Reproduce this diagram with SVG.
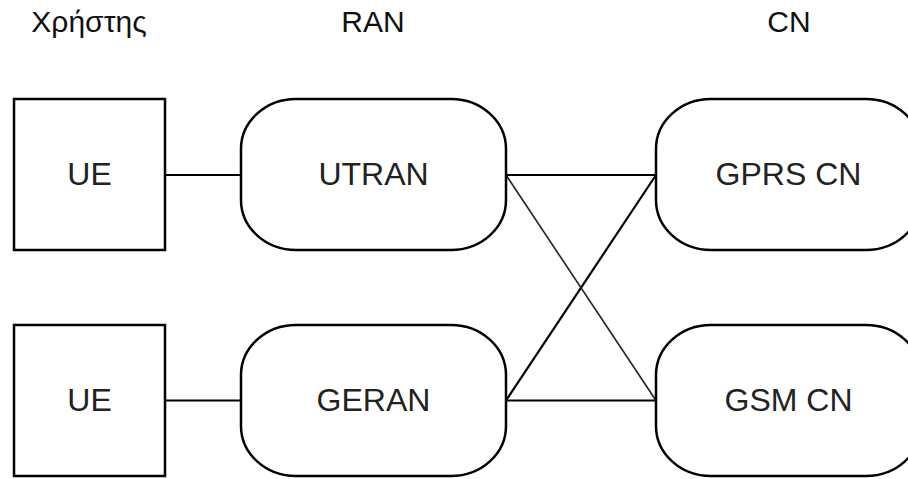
<svg xmlns="http://www.w3.org/2000/svg" width="908" height="479" viewBox="0 0 908 479">
<style>
.box{fill:#fff;stroke:#000;stroke-width:2.5}
.lbl{font-family:"Liberation Sans",Arial,sans-serif;font-size:32px;fill:#222;text-anchor:middle}
.hdr{font-family:"Liberation Sans",Arial,sans-serif;font-size:30px;fill:#111;text-anchor:middle}
.ln{stroke:#000;stroke-width:2.2;fill:none}
</style>
<rect width="908" height="479" fill="#fff"/>
<g id="headers">
<text class="hdr" x="89" y="32">Χρήστης</text>
<text class="hdr" x="373" y="32">RAN</text>
<text class="hdr" x="789" y="32">CN</text>
</g>
<g id="connectors">
<line class="ln" x1="165" y1="175" x2="241" y2="175"/>
<line class="ln" x1="165" y1="400.5" x2="241" y2="400.5"/>
<line class="ln" x1="506" y1="175" x2="656" y2="175"/>
<line class="ln" x1="506" y1="400.5" x2="656" y2="400.5"/>
<line class="ln" x1="506" y1="400.5" x2="656" y2="175"/>
<line x1="506" y1="175" x2="656" y2="400.5" stroke="#222" stroke-width="1.6"/>
</g>
<g id="ue1">
<rect class="box" x="14" y="99" width="151" height="151"/>
<text class="lbl" x="89.5" y="185">UE</text>
</g>
<g id="ue2">
<rect class="box" x="14" y="325" width="151" height="151"/>
<text class="lbl" x="89.5" y="411">UE</text>
</g>
<g id="utran">
<rect class="box" x="241" y="99" width="265" height="151" rx="55" ry="50"/>
<text class="lbl" x="373.5" y="185">UTRAN</text>
</g>
<g id="geran">
<rect class="box" x="241" y="325" width="265" height="151" rx="55" ry="50"/>
<text class="lbl" x="373.5" y="411">GERAN</text>
</g>
<g id="gprscn">
<rect class="box" x="656" y="99" width="265" height="151" rx="55" ry="50"/>
<text class="lbl" x="788.5" y="185">GPRS CN</text>
</g>
<g id="gsmcn">
<rect class="box" x="656" y="325" width="265" height="151" rx="55" ry="50"/>
<text class="lbl" x="788.5" y="411">GSM CN</text>
</g>
</svg>
